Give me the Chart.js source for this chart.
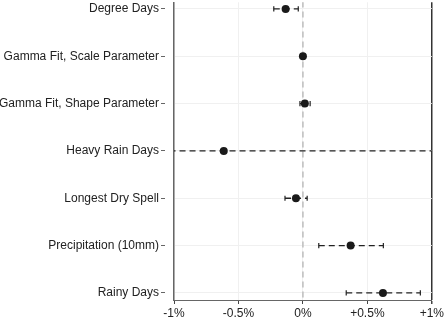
<!DOCTYPE html>
<html>
<head>
<meta charset="utf-8">
<script src="https://cdn.jsdelivr.net/npm/chart.js@4"></script>
<style>
  html, body { margin: 0; padding: 0; background: #fff; }
  #wrap { width: 446px; height: 317px; }
</style>
</head>
<body>
<div id="wrap"><canvas id="chart"></canvas></div>
<script>
// --- data (percent) ---
const categories = [
  'Degree Days',
  'Gamma Fit, Scale Parameter',
  'Gamma Fit, Shape Parameter',
  'Heavy Rain Days',
  'Longest Dry Spell',
  'Precipitation (10mm)',
  'Rainy Days'
];
const estimates = [-0.134, 0.0, 0.015, -0.614, -0.054, 0.370, 0.621];
const ciLow     = [-0.226, -0.004, -0.023, -1.5, -0.139, 0.123, 0.336];
const ciHigh    = [-0.036, 0.004, 0.056, 1.3, 0.033, 0.624, 0.911];
const xTickValues = [-1, -0.5, 0, 0.5, 1];
const xTickLabels = ['-1%', '-0.5%', '0%', '+0.5%', '+1%'];

const FAMILY = '"Liberation Sans", Arial, Helvetica, sans-serif';

// reference line at zero
const datasets = [{
  data: [{ x: 0, y: -1 }, { x: 0, y: 7 }],
  borderColor: '#bdbdbd',
  borderWidth: 1.5,
  borderDash: [6, 4],
  pointRadius: 0,
  order: 3
}];

// confidence intervals, dashed with small caps
categories.forEach((c, i) => {
  datasets.push({
    data: [{ x: ciLow[i], y: i }, { x: ciHigh[i], y: i }],
    borderColor: '#222',
    borderWidth: 1.3,
    borderDash: [6, 4],
    pointStyle: 'line',
    rotation: 90,
    pointRadius: 2.6,
    pointBorderColor: '#222',
    pointBorderWidth: 1.2,
    order: 2
  });
});

// point estimates
datasets.push({
  data: estimates.map((v, i) => ({ x: v, y: i })),
  showLine: false,
  pointRadius: 4,
  pointBackgroundColor: '#1a1a1a',
  pointBorderColor: '#1a1a1a',
  pointBorderWidth: 0,
  order: 1
});

new Chart(document.getElementById('chart'), {
  type: 'line',
  data: { datasets },
  options: {
    responsive: true,
    maintainAspectRatio: false,
    animation: false,
    layout: { autoPadding: false, padding: { top: 0, right: 12, bottom: 0, left: 0 } },
    plugins: { legend: { display: false }, tooltip: { enabled: false } },
    scales: {
      x: {
        type: 'linear',
        min: -1,
        max: 1,
        afterBuildTicks: s => { s.ticks = xTickValues.map(v => ({ value: v })); },
        afterFit: s => { s.height = 17; },
        ticks: {
          font: { family: FAMILY, size: 12 },
          color: '#222',
          padding: 2,
          maxRotation: 0,
          callback: (v) => xTickLabels[xTickValues.indexOf(v)]
        },
        grid: {
          color: ctx => (ctx.tick && ctx.tick.value === 1) ? '#333' : '#f0f0f0',
          lineWidth: ctx => (ctx.tick && ctx.tick.value === 1) ? 1.5 : 1,
          tickColor: '#444',
          tickLength: 4
        },
        border: { color: '#666', width: 1 }
      },
      y: {
        type: 'linear',
        reverse: true,
        min: -0.14,
        max: 6.15,
        afterBuildTicks: s => { s.ticks = categories.map((c, i) => ({ value: i })); },
        afterFit: s => { s.width = 174; },
        ticks: {
          // tiny lineHeight so the first label does not push the plot down
          font: { family: FAMILY, size: 12, lineHeight: 0.05 },
          color: '#222',
          padding: 2,
          callback: (v) => categories[v]
        },
        grid: {
          color: '#f0f0f0',
          tickColor: '#666',
          tickLength: 13,
          tickBorderDash: [4, 20]
        },
        border: { color: '#666', width: 1.5 }
      }
    }
  }
});
</script>
</body>
</html>
